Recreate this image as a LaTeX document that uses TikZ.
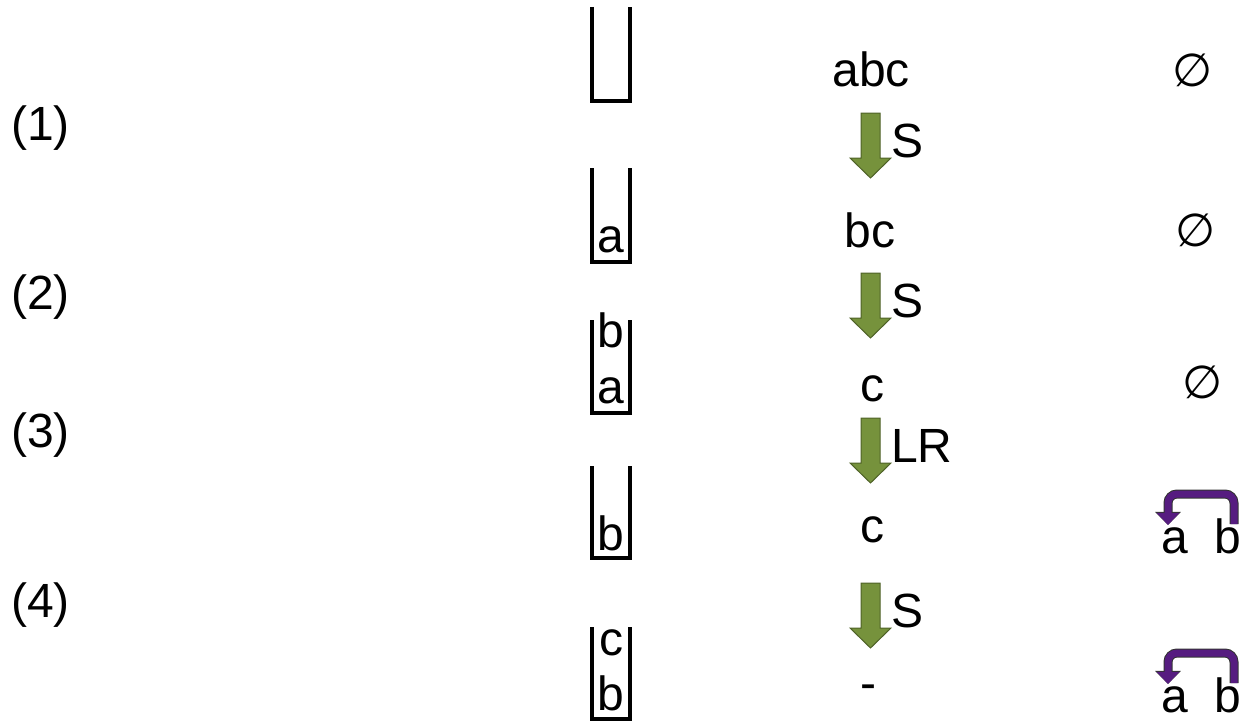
\documentclass[tikz,border=0pt]{standalone}
\usepackage{fontspec}
\setmainfont{Liberation Sans}
\newfontfamily\symfont{DejaVu Sans}
\usetikzlibrary{arrows.meta}
\definecolor{stepgreen}{HTML}{76923C}
\definecolor{stepedge}{HTML}{4F6228}
\definecolor{arcpurple}{HTML}{561C80}

\begin{document}
\begin{tikzpicture}[x=1pt,y=-1pt,
  txt/.style={font=\fontsize{48}{56}\selectfont, inner sep=0pt, anchor=base},
  nul/.style={font=\symfont\fontsize{46}{54}\selectfont, inner sep=0pt},
  wall/.style={line width=4pt, line join=miter},
  blockarrow/.style={fill=stepgreen, draw=stepedge, line width=1pt},
  swaparc/.style={draw=arcpurple, line width=7pt, rounded corners=9pt,
                  -{Triangle[width=22pt,length=12pt]},
                  preaction={draw=black!80, line width=9pt, -{Triangle[width=25pt,length=13pt]}}},
]
\useasboundingbox (0,0) rectangle (1243,725);

% step numbers
\node[txt, anchor=base west] (n1) at (11,140) {(1)};
\node[txt, anchor=base west] (n2) at (11,309) {(2)};
\node[txt, anchor=base west] (n3) at (11,447) {(3)};
\node[txt, anchor=base west] (n4) at (11,617) {(4)};

% stacks
\foreach \ty/\by in {7/101, 168/262, 320/413, 466/558, 627/719}
  \draw[wall] (592,\ty) -- (592,\by) -- (630,\by) -- (630,\ty);
\node[txt] (k2a) at (611,252) {a};
\node[txt] (k3b) at (611,347) {b};
\node[txt] (k3a) at (611,403) {a};
\node[txt] (k4b) at (611,550) {b};
\node[txt] (k5c) at (611,655) {c};
\node[txt] (k5b) at (611,710) {b};

% remaining input
\node[txt] (s1) at (871,87) {abc};
\node[txt] (s2) at (870,247) {bc};
\node[txt] (s3) at (872,401) {c};
\node[txt] (s4) at (872,542) {c};
\node[txt] (s5) at (868,699) {-};

% moves between rows
\foreach \ty/\lab [count=\i] in {113/S, 273/S, 418/LR, 583/S} {
  \draw[blockarrow] (861,\ty) -- (880,\ty) -- (880,\ty+45) -- (891,\ty+45)
    -- (870.5,\ty+65) -- (850,\ty+45) -- (861,\ty+45) -- cycle;
  \node[txt, anchor=base west] (m\i) at (891,\ty+44) {\lab};
}

% output
\node[nul] (e1) at (1193,70) {∅};
\node[nul] (e2) at (1196,230) {∅};
\node[nul] (e3) at (1203,382) {∅};
\node[txt] (a4) at (1175,553) {a};
\node[txt] (b4) at (1228,553) {b};
\node[txt] (a5) at (1175,712) {a};
\node[txt] (b5) at (1228,712) {b};
\draw[swaparc] ([xshift=6pt,yshift=-6pt]b4.north) -- ++(0,-30) -| ([xshift=-7pt,yshift=2pt]a4.north);
\draw[swaparc] ([xshift=6pt,yshift=-6pt]b5.north) -- ++(0,-30) -| ([xshift=-7pt,yshift=2pt]a5.north);
\end{tikzpicture}
\end{document}
